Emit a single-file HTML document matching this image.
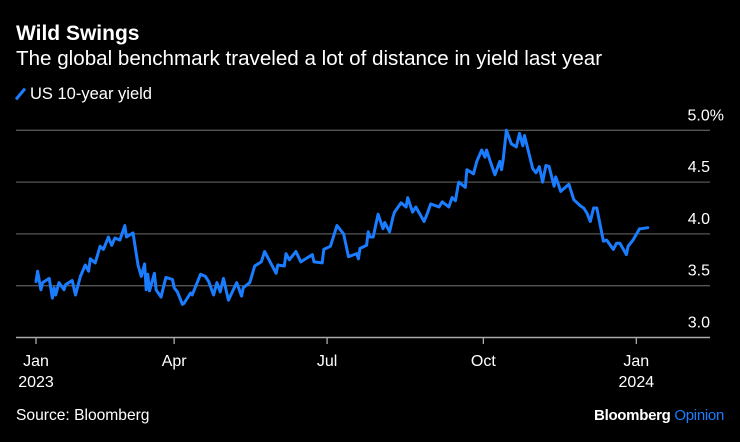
<!DOCTYPE html>
<html><head><meta charset="utf-8"><style>
html,body{margin:0;padding:0;background:#000;}
body{width:740px;height:442px;overflow:hidden;position:relative;font-family:"Liberation Sans",sans-serif;color:#fff;}
.t{position:absolute;white-space:nowrap;}
</style></head><body>
<div class="t" style="left:16px;top:22px;font-size:21px;font-weight:bold;">Wild Swings</div>
<div class="t" style="left:16px;top:47px;font-size:20.6px;">The global benchmark traveled a lot of distance in yield last year</div>
<div class="t" style="left:16px;top:85px;font-size:16.5px;"><span style="display:inline-block;width:3px;height:14px;background:#1a7cff;transform:rotate(40deg);margin:0 8px -2px 3px;"></span>US 10-year yield</div>
<svg id="chart" width="740" height="442" style="position:absolute;left:0;top:0;"></svg>
<div class="t" style="left:16px;top:407px;font-size:15.6px;">Source: Bloomberg</div>
<div class="t" style="right:16px;top:407px;font-size:15px;font-weight:bold;letter-spacing:-0.3px;">Bloomberg <span style="color:#1a7cff;font-weight:normal;">Opinion</span></div>
<script>
const days=[0,1,3,4,8,10,11,12,14,17,18,22,24,27,30,32,33,36,39,41,44,46,48,51,54,55,59,62,64,66,67,68,69,72,73,76,79,83,84,86,89,90,94,95,100,103,105,108,110,112,114,117,122,125,126,130,133,137,139,143,146,147,151,152,154,158,161,168,169,174,175,179,183,187,190,195,196,197,201,202,203,205,208,211,212,215,217,218,222,225,226,229,231,232,236,238,240,245,247,251,253,255,257,261,262,266,268,271,273,274,276,279,282,283,284,286,289,292,294,296,297,302,304,306,308,310,312,315,316,318,319,324,327,331,333,335,337,339,341,345,347,351,353,355,359,360,363,367,368,372,374];
const yields=[3.54,3.64,3.46,3.53,3.57,3.38,3.48,3.41,3.53,3.46,3.51,3.55,3.41,3.59,3.70,3.64,3.76,3.72,3.88,3.85,3.97,3.89,3.96,3.94,4.08,3.97,4.01,3.70,3.59,3.71,3.46,3.61,3.45,3.62,3.46,3.39,3.58,3.56,3.48,3.44,3.32,3.33,3.43,3.41,3.61,3.59,3.54,3.41,3.53,3.44,3.57,3.36,3.53,3.40,3.48,3.53,3.69,3.73,3.83,3.71,3.62,3.70,3.69,3.81,3.75,3.83,3.73,3.80,3.73,3.72,3.85,3.88,4.08,4.00,3.78,3.81,3.76,3.86,3.89,4.02,3.97,3.97,4.19,4.05,4.11,4.02,4.16,4.21,4.30,4.26,4.35,4.21,4.26,4.23,4.12,4.20,4.29,4.26,4.31,4.26,4.35,4.32,4.50,4.45,4.62,4.58,4.70,4.81,4.74,4.81,4.71,4.57,4.70,4.62,4.71,5.00,4.87,4.84,4.97,4.85,4.95,4.63,4.59,4.65,4.50,4.66,4.65,4.46,4.55,4.46,4.41,4.48,4.33,4.27,4.25,4.20,4.12,4.25,4.25,3.93,3.94,3.85,3.91,3.91,3.80,3.88,3.94,4.05,4.05,4.06];
const yTicks=[3.0,3.5,4.0,4.5,5.0];
const yTickLabels=["3.0","3.5","4.0","4.5","5.0%"];
const xTickDays=[0,84,177,272,365];
const xTickLabels=["Jan","Apr","Jul","Oct","Jan"];
const xTickYears=["2023","","","","2024"];

const svg=document.getElementById('chart');
const NS='http://www.w3.org/2000/svg';
const X=d=>36+d*1.6447;
const Y=v=>337.5-(v-3)*103.6;
function mk(tag,attrs){const e=document.createElementNS(NS,tag);for(const k in attrs)e.setAttribute(k,attrs[k]);svg.appendChild(e);return e;}
yTicks.forEach((v,i)=>{
  const l=mk('line',{x1:16,x2:710,y1:Y(v),y2:Y(v),stroke:i===0?'#aaa':'#555','stroke-width':i===0?1.5:1.3});
  
  
  const t=mk('text',{x:i===4?724:710,y:Y(v)-10,'text-anchor':'end',fill:'#fff','font-size':16,'font-family':'Liberation Sans, sans-serif'});
  t.textContent=yTickLabels[i];
  
  
});
xTickDays.forEach((d,i)=>{
  const tk=mk('line',{x1:X(d),x2:X(d),y1:337.5,y2:344,stroke:'#aaa','stroke-width':1.3});
  
  
  const t=mk('text',{x:X(d),y:366,'text-anchor':'middle',fill:'#fff','font-size':16,'font-family':'Liberation Sans, sans-serif'});
  t.textContent=xTickLabels[i];
  
  
  if(xTickYears[i]){
    const y=mk('text',{x:X(d),y:387,'text-anchor':'middle',fill:'#fff','font-size':16,'font-family':'Liberation Sans, sans-serif'});
    y.textContent=xTickYears[i];
    
    
  }
});
const pts=days.map((d,i)=>X(d).toFixed(1)+','+Y(yields[i]).toFixed(1)).join(' ');
const line=mk('polyline',{points:pts,fill:'none',stroke:'#1a7cff','stroke-width':3,'stroke-linejoin':'round','stroke-linecap':'round'});


</script>
</body></html>
